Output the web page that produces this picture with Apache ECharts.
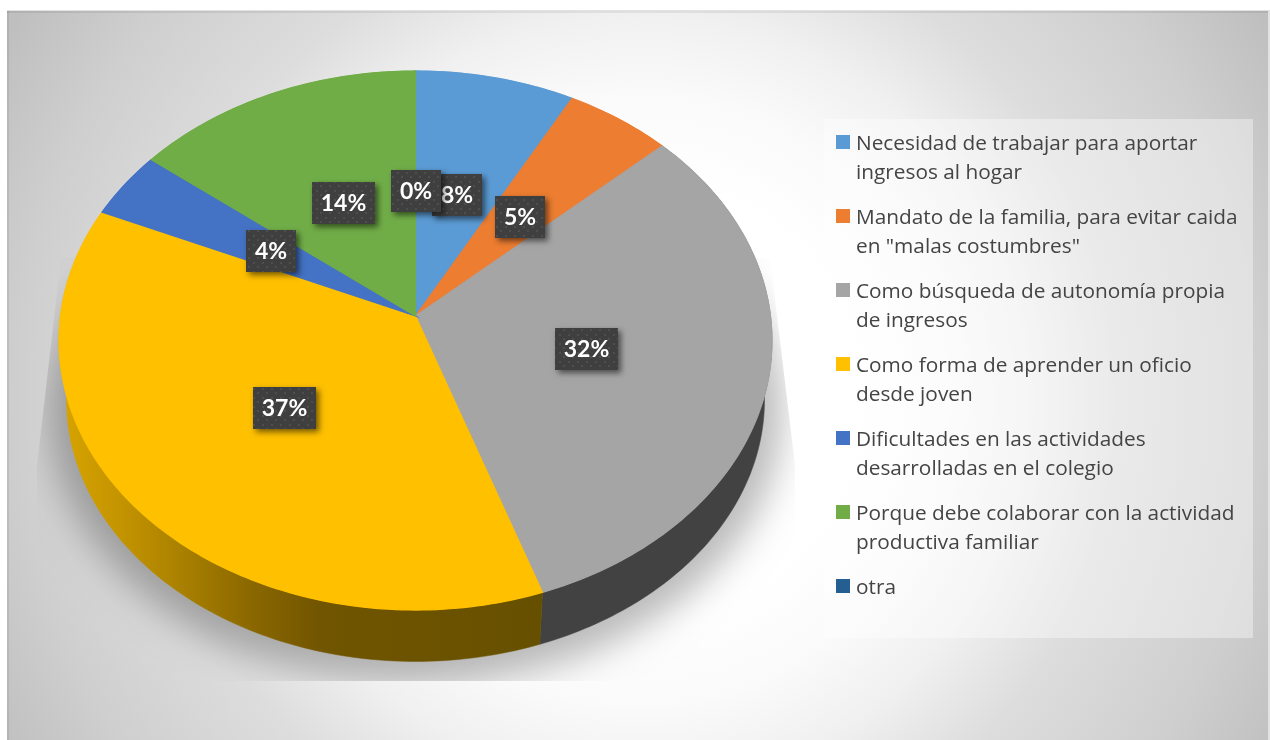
<!DOCTYPE html>
<html>
<head>
<meta charset="utf-8">
<style>
  html, body { margin: 0; padding: 0; background: #fff; }
  #main { width: 1270px; height: 740px; }
</style>
<script src="https://cdn.jsdelivr.net/npm/echarts@6/dist/echarts.min.js"></script>
</head>
<body>
<div id="main"></div>
<script>
// valores
const categories = [
  'Necesidad de trabajar para aportar\ningresos al hogar',
  'Mandato de la familia, para evitar caida\nen "malas costumbres"',
  'Como búsqueda de autonomía propia\nde ingresos',
  'Como forma de aprender un oficio\ndesde joven',
  'Dificultades en las actividades\ndesarrolladas en el colegio',
  'Porque debe colaborar con la actividad\nproductiva familiar',
  'otra',
]
const values = [7.9, 5.3, 31.5, 36.9, 4.0, 14.4, 0.0]
const colors = ['#5B9BD5', '#ED7D31', '#A5A5A5', '#FFC000', '#4472C4', '#70AD47', '#255E91']

const chart = echarts.init(document.getElementById('main'))
const FONT = '"Open Sans", sans-serif'

// proyeccion en perspectiva del disco
const cx = 415.5
const cy = 316
const R = 355
const K = 267.3
const P = 0.0909
const total = values.reduce((a, b) => a + b, 0)

function discPoint(deg, r) {
  const t = deg * Math.PI / 180
  const u = r * Math.sin(t)
  const v = -r * Math.cos(t)
  const w = 1 - P * v
  return [cx + R * u / w, cy + K * v / w]
}
function topPoint(deg) {
  return discPoint(deg, 1)
}
function basePoint(deg) {
  const p = topPoint(deg)
  return [cx + 0.979 * (p[0] - cx), 400 + 0.97 * (p[1] - 340.5)]
}
function angles(i) {
  let sum = 0
  for (let k = 0; k < i; k++) sum += values[k]
  return [sum / total * 360, (sum + values[i]) / total * 360]
}
function arc(fn, a, b) {
  const pts = []
  for (let d = a; d < b; d += 1) pts.push(fn(d))
  pts.push(fn(b))
  return pts
}

const wallFill = colors.slice()
wallFill[2] = '#424242'
wallFill[3] = new echarts.graphic.LinearGradient(60, 0, 540, 0, [
  { offset: 0, color: '#D8A400' },
  { offset: 0.125, color: '#C49400' },
  { offset: 0.23, color: '#AE8400' },
  { offset: 0.4, color: '#8A6700' },
  { offset: 0.54, color: '#715500' },
  { offset: 1, color: '#665000' },
], true)

// textura de puntos de las etiquetas
const tile = document.createElement('canvas')
tile.width = 9
tile.height = 9
const g = tile.getContext('2d')
g.fillStyle = '#3F3F3F'
g.fillRect(0, 0, 9, 9)
g.fillStyle = '#4E4E4E'
g.fillRect(1, 1, 2, 2)
g.fillRect(5, 5, 2, 2)

const seriesData = values.map((v, i) => [v, i])

// la figura queda fuera del lienzo y solo entra su sombra
const SHADOW_SHIFT = 3000
function shadowPoint(deg) {
  const p = basePoint(deg)
  return [cx + 1.05 * (p[0] - cx) - SHADOW_SHIFT, 410 + 1.05 * (p[1] - 400)]
}

function renderShadow() {
  return {
    type: 'polygon',
    silent: true,
    shape: { points: arc(shadowPoint, 0, 360) },
    style: { fill: '#000', shadowBlur: 36, shadowOffsetX: SHADOW_SHIFT, shadowColor: 'rgba(0,0,0,0.27)' },
    clipPath: {
      type: 'polygon',
      shape: { points: [[61, 258], [770, 258], [795, 465], [795, 681], [37, 681], [37, 465]] },
    },
  }
}

function renderWall(params, api) {
  const i = api.value(1)
  const [a, b] = angles(i)
  if (api.value(0) === 0) return null
  return {
    type: 'polygon',
    shape: { points: arc(topPoint, a, b).concat(arc(basePoint, a, b).reverse()) },
    style: { fill: wallFill[i], stroke: wallFill[i], lineWidth: 0.5 },
  }
}

function renderFace(params, api) {
  const i = api.value(1)
  const [a, b] = angles(i)
  if (api.value(0) === 0) return null
  return {
    type: 'polygon',
    shape: { points: [[cx, cy]].concat(arc(topPoint, a, b)) },
    style: { fill: colors[i], stroke: colors[i], lineWidth: 1.2 },
  }
}

function renderLabel(params, api) {
  const i = api.value(1)
  const [a, b] = angles(i)
  const p = discPoint((a + b) / 2, 0.49)
  const text = Math.round(api.value(0)) + '%'
  const w = text.length > 2 ? 63 : 50
  const h = 42
  const x = Math.round(p[0] + 1 - w / 2)
  const y = Math.round(p[1] + 0.5 - h / 2)
  return {
    type: 'group',
    children: [
      {
        type: 'rect',
        shape: { x, y, width: w, height: h },
        style: {
          fill: '#3F3F3F',
          shadowBlur: 6,
          shadowOffsetX: 3,
          shadowOffsetY: 3,
          shadowColor: 'rgba(0,0,0,0.55)',
        },
      },
      {
        type: 'rect',
        shape: { x, y, width: w, height: h },
        style: { fill: { image: tile, repeat: 'repeat' } },
      },
      {
        type: 'text',
        style: {
          text,
          x: x + w / 2,
          y: y + h / 2 + 1,
          align: 'center',
          verticalAlign: 'middle',
          fill: '#fff',
          font: 'bold 23px Lato, sans-serif',
        },
      },
    ],
  }
}

// fondo y leyenda
const background = [
  {
    type: 'rect',
    shape: { x: 7, y: 11, width: 1261, height: 729 },
    style: {
      fill: new echarts.graphic.RadialGradient(640, 400, 730, [
        { offset: 0, color: '#FFFFFF' },
        { offset: 0.3, color: '#FFFFFF' },
        { offset: 0.42, color: '#FAFAFA' },
        { offset: 0.53, color: '#F0F0F0' },
        { offset: 0.66, color: '#DDDDDD' },
        { offset: 0.85, color: '#CFCFCF' },
        { offset: 1, color: '#BFBFBF' },
      ], true),
    },
  },
  { type: 'rect', shape: { x: 7, y: 10, width: 1263, height: 1 }, style: { fill: '#E2E2E2' } },
  { type: 'rect', shape: { x: 7, y: 11, width: 1261, height: 2 }, style: { fill: 'rgba(0,0,0,0.07)' } },
  { type: 'rect', shape: { x: 7, y: 11, width: 2, height: 729 }, style: { fill: 'rgba(0,0,0,0.07)' } },
  { type: 'rect', shape: { x: 1268, y: 10, width: 2, height: 730 }, style: { fill: '#E2E2E2' } },
]
const legendPanel = {
  type: 'rect',
  shape: { x: 824, y: 119, width: 429, height: 519 },
  style: { fill: 'rgba(255,255,255,0.38)' },
}
const legendItems = []
categories.forEach((name, i) => {
  const y = 135 + i * 74
  legendItems.push({
    type: 'rect',
    shape: { x: 836, y, width: 14, height: 14 },
    style: { fill: colors[i] },
  })
  legendItems.push({
    type: 'text',
    x: 856,
    y: y - 6,
    style: {
      text: name,
      fill: '#444444',
      font: '20.8px ' + FONT,
      lineHeight: 29.5,
      align: 'left',
      verticalAlign: 'top',
    },
  })
})

chart.setOption({
  animation: false,
  graphic: { elements: background.concat([legendPanel], legendItems) },
  series: [
    { type: 'custom', name: 'sombra', coordinateSystem: 'none', silent: true, z: 2, data: [[1, 0]], renderItem: renderShadow },
    { type: 'custom', name: 'pared', coordinateSystem: 'none', silent: true, z: 3, data: seriesData, renderItem: renderWall },
    { type: 'custom', name: 'cara', coordinateSystem: 'none', silent: true, z: 4, data: seriesData, renderItem: renderFace },
    { type: 'custom', name: 'etiquetas', coordinateSystem: 'none', silent: true, z: 5, data: seriesData, renderItem: renderLabel },
  ],
})
</script>
</body>
</html>
